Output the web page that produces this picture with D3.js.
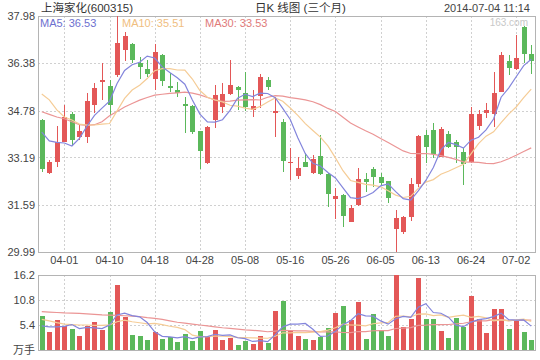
<!DOCTYPE html>
<html>
<head>
<meta charset="utf-8">
<script src="https://cdn.jsdelivr.net/npm/d3@7"></script>
<style>
body { margin: 0; background: #fff; }
svg text { font-family: "Liberation Sans", Arial, "Noto Sans CJK SC", sans-serif; }
</style>
</head>
<body>
<div id="graphCanvas"></div>
<script>
var maxWidth = 540;
var maxHeight = 360;

// trading days (MM-DD), 2014-03-27 .. 2014-07-04
var dates = ["03-27","03-28","03-31","04-01","04-02","04-03","04-04","04-08","04-09","04-10",
    "04-11","04-14","04-15","04-16","04-17","04-18","04-21","04-22","04-23","04-24",
    "04-25","04-28","04-29","04-30","05-05","05-06","05-07","05-08","05-09","05-12",
    "05-13","05-14","05-15","05-16","05-19","05-20","05-21","05-22","05-23","05-26",
    "05-27","05-28","05-29","05-30","06-04","06-05","06-06","06-09","06-10","06-11",
    "06-12","06-13","06-16","06-17","06-18","06-19","06-20","06-24","06-25","06-26",
    "06-27","06-30","07-01","07-02","07-03","07-04"];

var opens = [34.46,32.67,33.03,33.72,34.65,33.88,33.87,34.97,35.75,35.61,
    35.98,36.83,37.02,36.40,36.18,35.84,36.66,35.61,35.47,35.01,
    34.93,34.09,32.99,34.46,34.89,35.34,35.59,35.38,34.80,35.27,
    35.81,34.69,34.40,33.00,32.57,33.03,32.67,33.25,32.63,31.77,
    31.92,31.01,31.58,32.46,32.79,32.54,32.39,30.77,30.68,31.16,
    32.29,33.95,34.12,33.20,33.98,33.70,33.36,33.03,34.26,34.69,
    34.66,35.42,36.47,36.18,37.60,36.68];
var highs = [34.48,33.10,34.26,34.97,34.74,34.31,35.38,35.72,36.38,35.81,
    37.98,37.45,37.08,36.60,36.49,37.02,36.70,36.06,35.76,35.25,
    34.95,34.10,34.25,35.64,35.70,36.49,35.60,36.09,35.47,36.02,
    35.92,35.25,34.48,33.50,33.20,33.35,33.27,33.95,32.65,32.15,
    31.95,31.58,32.82,32.67,32.86,32.67,32.40,31.41,31.20,32.49,
    33.95,34.12,34.35,34.23,34.10,33.78,33.50,34.89,34.80,35.02,
    36.09,36.75,36.66,37.34,37.63,37.00];
var lows = [32.71,32.63,32.86,33.70,33.61,33.78,33.68,34.70,35.14,34.63,
    35.91,36.47,36.38,35.84,35.93,35.47,35.62,35.42,35.23,34.01,
    33.98,32.80,32.97,34.18,34.69,35.30,34.80,34.77,34.57,34.85,
    35.47,33.87,32.71,32.43,32.45,32.86,32.62,32.60,31.50,31.10,
    30.85,31.00,31.55,32.03,32.20,32.26,31.66,30.00,30.60,31.05,
    32.20,32.99,33.16,33.20,33.50,32.99,32.26,33.00,34.12,34.52,
    34.21,35.40,35.98,36.15,36.38,36.02];
var closes = [32.80,33.05,33.70,34.57,33.78,34.09,35.10,35.53,35.81,34.97,
    37.08,37.30,36.49,36.24,36.01,36.75,35.79,35.53,35.36,34.93,
    34.06,33.42,34.21,35.31,35.34,35.64,35.47,34.89,34.93,35.92,
    35.57,34.77,33.08,33.05,32.82,32.88,33.14,32.62,31.95,31.89,
    31.22,31.47,32.45,32.35,32.54,32.34,31.81,31.13,31.16,32.29,
    33.92,33.56,33.31,34.15,33.55,33.55,32.97,34.66,34.65,34.80,
    35.38,36.66,36.21,36.57,36.68,36.47];
// volume, 万手
var volumes = [7.34,3.96,6.48,5.18,4.54,3.02,5.18,6.05,4.32,8.28,
    14.04,7.20,3.24,3.02,2.16,3.96,2.38,2.74,1.80,3.46,
    2.02,4.18,3.02,4.32,2.16,2.66,1.08,2.02,1.30,3.02,
    1.58,8.42,10.66,4.18,3.02,2.38,2.16,2.88,4.68,8.06,
    9.50,6.48,10.44,2.38,7.78,4.32,3.02,16.20,4.90,6.70,
    15.48,6.70,6.70,4.10,2.52,6.84,5.04,11.66,6.70,3.74,
    8.86,8.86,4.54,6.26,3.96,2.16];

// moving average values before the window is filled
var ma5Head = [34.05,33.75,33.70,33.68];
var ma10Head = [35.34,35.14,34.80,34.56,34.46,34.32,34.29,34.29,34.32];
var ma30Head = [34.74,34.65,34.56,34.50,34.40,34.30,34.28,34.30,34.40,34.60,
    34.75,34.90,35.02,35.13,35.22,35.30,35.33,35.36,35.38,35.40,
    35.37,35.31,35.22,35.14,35.09,35.10,35.13,35.14,35.15];
var volMa5Head = [5.2,5.0,5.0,5.1];
var volMa10Head = [6.6,6.3,5.9,5.6,5.5,5.4,5.4,5.3,5.3];
var volMa30Head = [8.3,8.2,8.1,8.0,7.95,7.9,7.8,7.7,7.6,7.55,
    7.5,7.4,7.3,7.2,7.0,6.85,6.6,6.3,6.0,5.8,
    5.6,5.4,5.2,5.0,4.8,4.65,4.5,4.35,4.25];

var priceTicks = [29.99,31.59,33.19,34.78,36.38,37.98];
var volTicks = [0,5.4,10.8,16.2];
var volTickLabels = ["万手","5.4","10.8","16.2"];
var tickDates = ["04-01","04-10","04-18","04-28","05-08","05-16","05-26","06-05","06-13","06-24","07-02"];
var maLabels = ["MA5: 36.53","MA10: 35.51","MA30: 33.53"];

var red = "#e35757", green = "#5bb85b";
var maColors = ["#8385dc","#f5cc96","#eb9595"];

// note: "top" is reserved on window, so plot edges get their own names
var plotLeft = 38, plotRight = 535, plotTop = 16, priceBottom = 252, volTop = 275, volBottom = 350;

function movingAvg(values, n, head) {
    return values.map(function(v, i) {
        if (i < n - 1) return head[i];
        return d3.mean(values.slice(i - n + 1, i + 1));
    });
}

var idx = d3.range(dates.length);
var x = d3.scaleBand().domain(idx).range([plotLeft, plotRight]).paddingInner(0.33).paddingOuter(0.165);
var cx = function(i) { return x(i) + x.bandwidth() / 2; };
var yP = d3.scaleLinear().domain([priceTicks[0], priceTicks[priceTicks.length - 1]]).range([priceBottom, plotTop]);
var yV = d3.scaleLinear().domain([0, volTicks[volTicks.length - 1]]).range([volBottom, volTop]);

var tickIdx = idx.filter(function(i) { return tickDates.indexOf(dates[i]) >= 0; });

var svg = d3.select("#graphCanvas").append("svg").attr("width", maxWidth).attr("height", maxHeight);

// grid
var grid = svg.append("g").style("stroke", "#d0d0d0").style("stroke-dasharray", "2,2").style("shape-rendering", "crispEdges");
grid.selectAll(".hp").data(priceTicks.slice(1, -1)).enter().append("line")
    .attr("x1", plotLeft).attr("x2", plotRight)
    .attr("y1", function(d) { return Math.round(yP(d)) + 0.5; })
    .attr("y2", function(d) { return Math.round(yP(d)) + 0.5; });
grid.selectAll(".hv").data(volTicks.slice(1, -1)).enter().append("line")
    .attr("x1", plotLeft).attr("x2", plotRight)
    .attr("y1", function(d) { return Math.round(yV(d)) + 0.5; })
    .attr("y2", function(d) { return Math.round(yV(d)) + 0.5; });
grid.selectAll(".vp").data(tickIdx).enter().append("line")
    .attr("x1", function(i) { return Math.round(cx(i)) + 0.5; })
    .attr("x2", function(i) { return Math.round(cx(i)) + 0.5; })
    .attr("y1", plotTop).attr("y2", priceBottom);
grid.selectAll(".vv").data(tickIdx).enter().append("line")
    .attr("x1", function(i) { return Math.round(cx(i)) + 0.5; })
    .attr("x2", function(i) { return Math.round(cx(i)) + 0.5; })
    .attr("y1", volTop).attr("y2", volBottom);

// frames
svg.append("rect").attr("x", plotLeft + 0.5).attr("y", plotTop + 0.5)
    .attr("width", plotRight - plotLeft).attr("height", priceBottom - plotTop)
    .style("fill", "none").style("stroke", "#b4b4b4");
svg.append("rect").attr("x", plotLeft + 0.5).attr("y", volTop + 0.5)
    .attr("width", plotRight - plotLeft).attr("height", volBottom - volTop)
    .style("fill", "none").style("stroke", "#b4b4b4");

// axes
var yAxis = svg.append("g").attr("transform", "translate(" + plotLeft + ",0)")
    .call(d3.axisLeft(yP).tickValues(priceTicks).tickFormat(d3.format(".2f")).tickSize(0).tickPadding(3));
var vAxis = svg.append("g").attr("transform", "translate(" + plotLeft + ",0)")
    .call(d3.axisLeft(yV).tickValues(volTicks).tickFormat(function(d, i) { return volTickLabels[i]; }).tickSize(0).tickPadding(3));
var xAxis = svg.append("g").attr("transform", "translate(0," + priceBottom + ")")
    .call(d3.axisBottom(x).tickValues(tickIdx).tickFormat(function(i) { return dates[i]; }).tickSize(0).tickPadding(4));
[yAxis, vAxis, xAxis].forEach(function(a) {
    a.select(".domain").remove();
    a.selectAll("text").style("font-size", "11px").style("fill", "#444")
        .style("font-family", "'Liberation Sans', Arial, 'Noto Sans CJK SC', sans-serif");
});

// candles
var isUp = function(i) { return closes[i] >= opens[i]; };
var candles = svg.append("g").style("shape-rendering", "crispEdges");
candles.selectAll(".wick").data(idx).enter().append("line")
    .attr("x1", function(i) { return Math.round(cx(i)) + 0.5; })
    .attr("x2", function(i) { return Math.round(cx(i)) + 0.5; })
    .attr("y1", function(i) { return yP(highs[i]); })
    .attr("y2", function(i) { return yP(lows[i]); })
    .style("stroke", function(i) { return isUp(i) ? red : green; });
candles.selectAll(".body").data(idx).enter().append("rect")
    .attr("x", function(i) { return Math.round(cx(i)) - 2; })
    .attr("width", 5)
    .attr("y", function(i) { return yP(Math.max(opens[i], closes[i])); })
    .attr("height", function(i) { return Math.max(1, Math.abs(yP(opens[i]) - yP(closes[i]))); })
    .style("fill", function(i) { return isUp(i) ? red : green; });

// volume bars
svg.append("g").style("shape-rendering", "crispEdges")
    .selectAll("rect").data(idx).enter().append("rect")
    .attr("x", function(i) { return Math.round(cx(i)) - 2; })
    .attr("width", 5)
    .attr("y", function(i) { return yV(volumes[i]); })
    .attr("height", function(i) { return volBottom - yV(volumes[i]); })
    .style("fill", function(i) { return isUp(i) ? red : green; });

// moving averages
var priceMAs = [movingAvg(closes, 5, ma5Head), movingAvg(closes, 10, ma10Head), movingAvg(closes, 30, ma30Head)];
var volMAs = [movingAvg(volumes, 5, volMa5Head), movingAvg(volumes, 10, volMa10Head), movingAvg(volumes, 30, volMa30Head)];

[2, 1, 0].forEach(function(k) {
    var lineP = d3.line().x(function(d, i) { return cx(i); }).y(function(d) { return yP(d); });
    var lineV = d3.line().x(function(d, i) { return cx(i); }).y(function(d) { return yV(d); });
    svg.append("path").attr("d", lineP(priceMAs[k]))
        .style("fill", "none").style("stroke", maColors[k]).style("stroke-width", 1.2);
    svg.append("path").attr("d", lineV(volMAs[k]))
        .style("fill", "none").style("stroke", maColors[k]).style("stroke-width", 1.2);
});

// header texts
svg.append("text").attr("x", 41).attr("y", 12).text("上海家化(600315)")
    .style("font-size", "11.5px").style("fill", "#333");
svg.append("text").attr("x", 255).attr("y", 12).text("日K 线图 (三个月)")
    .style("font-size", "11.5px").style("fill", "#333");
svg.append("text").attr("x", 530).attr("y", 12).attr("text-anchor", "end").text("2014-07-04 11:14")
    .style("font-size", "11px").style("fill", "#444");

var legendX = [40, 122, 205];
svg.selectAll(".legend").data(maLabels).enter().append("text")
    .attr("x", function(d, i) { return legendX[i]; })
    .attr("y", 27)
    .text(function(d) { return d; })
    .style("font-size", "11px")
    .style("fill", function(d, i) { return ["#6d70cf", "#f0be80", "#e07a7a"][i]; });

svg.append("text").attr("x", 528).attr("y", 26).attr("text-anchor", "end").text("163.com")
    .style("font-size", "10px").style("fill", "#c8c8c8");
</script>
</body>
</html>
